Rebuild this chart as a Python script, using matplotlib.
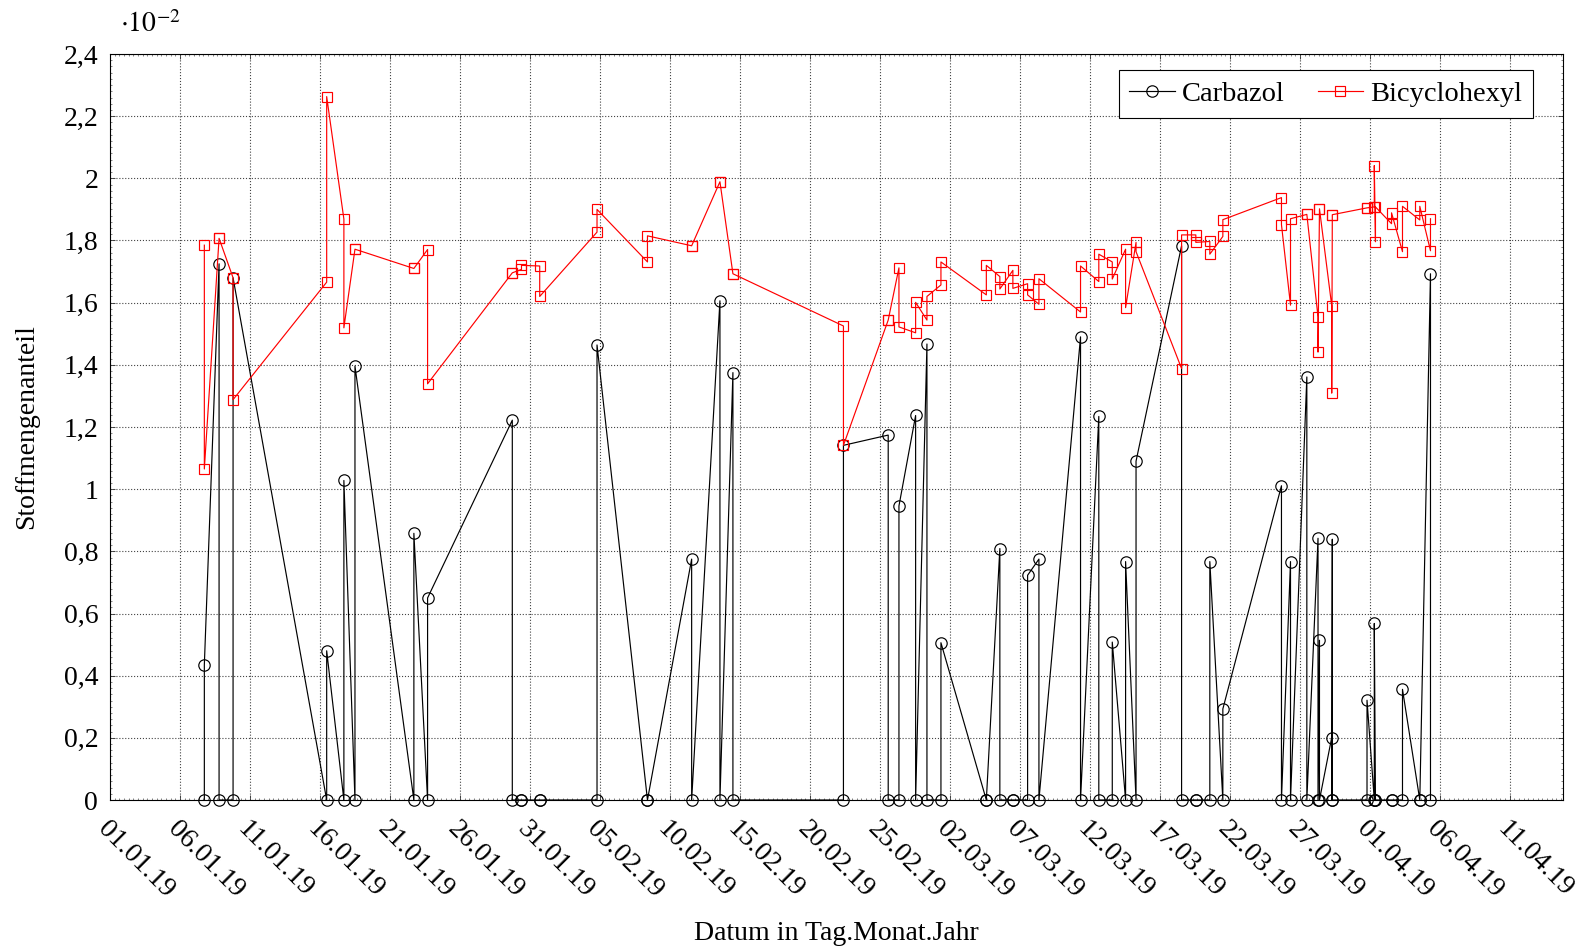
import matplotlib
matplotlib.use("Agg")
import matplotlib.pyplot as plt
import matplotlib.dates as mdates
from matplotlib.transforms import ScaledTranslation
import numpy as np
import pandas as pd

plt.rcParams["font.family"] = ["Liberation Serif", "DejaVu Serif"]
plt.rcParams["mathtext.fontset"] = "stix"
plt.rcParams["font.size"] = 20

# sampling times, each one has two measurements
dates = [
    "2019-01-07 17:45", "2019-01-08 19:00", "2019-01-09 19:00", "2019-01-16 11:30",
    "2019-01-17 17:00", "2019-01-18 12:00", "2019-01-22 17:00", "2019-01-23 16:30",
    "2019-01-29 17:45", "2019-01-30 09:30", "2019-01-31 16:45", "2019-02-04 19:00",
    "2019-02-08 09:30", "2019-02-11 13:15", "2019-02-13 13:45", "2019-02-14 12:00",
    "2019-02-22 09:30", "2019-02-25 14:15", "2019-02-26 08:40", "2019-02-27 13:15",
    "2019-02-28 08:40", "2019-03-01 08:40", "2019-03-04 14:30", "2019-03-05 13:40",
    "2019-03-06 12:00", "2019-03-07 13:15", "2019-03-08 08:40", "2019-03-11 08:00",
    "2019-03-12 15:20", "2019-03-13 14:25", "2019-03-14 13:15", "2019-03-15 07:10",
    "2019-03-18 13:15", "2019-03-19 13:40", "2019-03-20 13:40", "2019-03-21 12:00",
    "2019-03-25 16:30", "2019-03-26 08:00", "2019-03-27 12:00", "2019-03-28 07:10",
    "2019-03-28 09:40", "2019-03-29 06:40", "2019-03-29 07:40", "2019-03-31 19:10",
    "2019-04-01 07:40", "2019-04-01 09:40", "2019-04-02 13:15", "2019-04-03 08:00",
    "2019-04-04 13:40", "2019-04-05 08:00",
]

# Stoffmengenanteil in 10^-2
carbazol = [
    [0, 0.435], [1.725, 0], [0, 1.68], [0, 0.48], [0, 1.028], [0, 1.396],
    [0, 0.858], [0, 0.650], [1.222, 0], [0, 0], [0, 0], [0, 1.464],
    [0, 0], [0.775, 0], [1.606, 0], [1.375, 0], [0, 1.141], [1.174, 0],
    [0, 0.946], [1.237, 0], [1.467, 0], [0, 0.506], [0, 0], [0.809, 0],
    [0, 0], [0, 0.723], [0.775, 0], [1.490, 0], [1.234, 0], [0, 0.508],
    [0, 0.767], [0, 1.090], [1.783, 0], [0, 0], [0, 0.767], [0, 0.293],
    [1.011, 0], [0.767, 0], [1.361, 0], [0.842, 0], [0.514, 0], [0.201, 0],
    [0.839, 0], [0, 0.321], [0, 0.568], [0, 0], [0, 0], [0, 0.356],
    [0, 0], [1.693, 0],
]

bicyclohexyl = [
    [1.785, 1.065], [1.807, 1.807], [1.68, 1.288], [1.666, 2.263], [1.869, 1.519],
    [1.772, 1.772], [1.710, 1.710], [1.771, 1.339], [1.696, 1.696], [1.707, 1.720],
    [1.718, 1.620], [1.827, 1.900], [1.731, 1.815], [1.783, 1.783], [1.989, 1.989],
    [1.693, 1.693], [1.525, 1.141], [1.544, 1.544], [1.712, 1.522], [1.503, 1.601],
    [1.544, 1.620], [1.657, 1.731], [1.625, 1.720], [1.684, 1.644], [1.704, 1.646],
    [1.661, 1.625], [1.595, 1.677], [1.570, 1.718], [1.668, 1.756], [1.731, 1.676],
    [1.772, 1.584], [1.794, 1.764], [1.388, 1.818], [1.818, 1.794], [1.797, 1.756],
    [1.813, 1.867], [1.938, 1.851], [1.592, 1.870], [1.884, 1.884], [1.554, 1.441],
    [1.902, 1.902], [1.590, 1.309], [1.883, 1.883], [1.905, 1.905], [1.908, 2.041],
    [1.796, 1.908], [1.854, 1.889], [1.764, 1.910], [1.866, 1.910], [1.767, 1.870],
]

yticks = [0, 0.2, 0.4, 0.6, 0.8, 1.0, 1.2, 1.4, 1.6, 1.8, 2.0, 2.2, 2.4]

t = mdates.date2num(pd.to_datetime(dates).to_pydatetime())
x = np.repeat(t, 2)
carb = np.array(carbazol).ravel()
bic = np.array(bicyclohexyl).ravel()

fig = plt.figure(figsize=(15.84, 9.52), dpi=100)
ax = fig.add_axes([110 / 1584, 1 - 800 / 952, 1453 / 1584, 746 / 952])

ax.plot(x, carb, color="black", lw=0.85, marker="o", ms=8.2, mfc="none",
        mec="black", mew=0.85, label="Carbazol", clip_on=False, zorder=3)
ax.plot(x, bic, color="red", lw=0.85, marker="s", ms=7.6, mfc="none",
        mec="red", mew=0.85, label="Bicyclohexyl", clip_on=False, zorder=4)

start = mdates.date2num(pd.Timestamp("2019-01-01").to_pydatetime())
ax.set_xlim(start, start + 103.8)
ax.set_ylim(0, 2.4)

xt = pd.date_range("2019-01-01", "2019-04-11", freq="5D")
ax.set_xticks(mdates.date2num(xt.to_pydatetime()),
              labels=[d.strftime("%d.%m.%y") for d in xt],
              rotation=-45, ha="left", va="top", rotation_mode="anchor")
for lab in ax.get_xticklabels():
    lab.set_transform(lab.get_transform() + ScaledTranslation(-4.5 / 100, 0, fig.dpi_scale_trans))

ax.set_yticks(yticks, labels=[f"{v:.1f}".rstrip("0").rstrip(".").replace(".", ",") for v in yticks])

ax.xaxis.set_minor_locator(plt.MultipleLocator(1 / 3))
ax.yaxis.set_minor_locator(plt.MultipleLocator(0.02))
ax.tick_params(which="major", direction="in", length=3.5, width=0.6,
               top=True, right=True, color="#333333")
ax.tick_params(which="minor", direction="in", length=1.5, width=0.5,
               top=True, right=True, color="#555555")
ax.tick_params(axis="x", which="major", pad=12)
ax.tick_params(axis="y", which="major", pad=8.5)

ax.grid(True, which="major", ls=":", color="#444444", lw=0.8)
ax.set_axisbelow(True)
for s in ax.spines.values():
    s.set_linewidth(0.8)

ax.set_xlabel("Datum in Tag.Monat.Jahr", va="baseline")
ax.xaxis.set_label_coords(0.5, (800 - 940) / 746)
ax.set_ylabel("Stoffmengenanteil", va="center")
ax.yaxis.set_label_coords((27 - 110) / 1453, 0.5)

fig.text(120 / 1584, 1 - 32 / 952, r"$\cdot10^{-2}$", va="baseline", ha="left")

leg = ax.legend(loc="upper right", bbox_to_anchor=((1533 - 110) / 1453, (800 - 70) / 746),
                borderaxespad=0, ncol=2, handlelength=1.6, handletextpad=0.25,
                columnspacing=1.15, borderpad=0.38, fancybox=False, framealpha=1,
                edgecolor="black", fontsize=20.5)
leg.get_frame().set_linewidth(0.8)

fig.savefig("out.png", dpi=100)
